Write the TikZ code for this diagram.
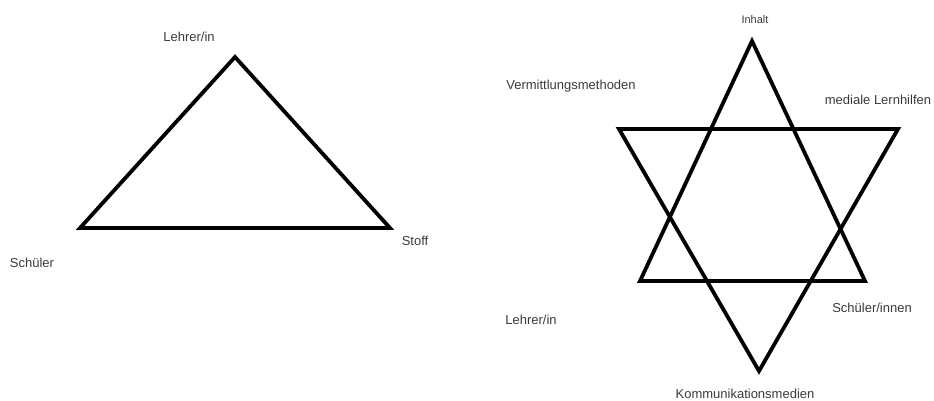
\documentclass[tikz,border=0pt]{standalone}
\usepackage{fontspec}
\setmainfont{Liberation Sans}
\definecolor{txt}{HTML}{3A3A3A}
\begin{document}
\begin{tikzpicture}[x=1pt,y=-1pt,
  lbl/.style={text=txt,font=\fontsize{13}{15}\selectfont,inner sep=0pt,anchor=center},
  small/.style={text=txt,font=\fontsize{11}{13}\selectfont,inner sep=0pt,anchor=center},
  edge/.style={line width=3.8pt,line join=miter,black}]
\useasboundingbox (0,0) rectangle (934,401);
% left triangle
\coordinate (LA) at (235,57);
\coordinate (LB) at (80,228);
\coordinate (LC) at (390,228);
\draw[edge] (LA) -- (LB) -- (LC) -- cycle;
\node[lbl] (l1) at (189,37) {Lehrer/in};
\node[lbl] (l2) at (32,263) {Schüler};
\node[lbl] (l3) at (415,241) {Stoff};
% star
\coordinate (UA) at (752,41);
\coordinate (UB) at (640,281);
\coordinate (UC) at (865,281);
\coordinate (DA) at (619,129);
\coordinate (DB) at (898,129);
\coordinate (DC) at (759,371);
\draw[edge] (UA) -- (UB) -- (UC) -- cycle;
\draw[edge] (DA) -- (DB) -- (DC) -- cycle;
\node[small] (s1) at (755,20) {Inhalt};
\node[lbl] (s2) at (571,86) {Vermittlungsmethoden};
\node[lbl] (s3) at (878,100) {mediale Lernhilfen};
\node[lbl] (s4) at (872,308) {Schüler/innen};
\node[lbl] (s5) at (531,320) {Lehrer/in};
\node[lbl] (s6) at (745,394) {Kommunikationsmedien};
\end{tikzpicture}
\end{document}
